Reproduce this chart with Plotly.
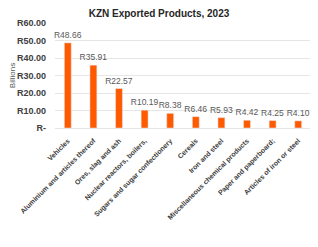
import plotly.graph_objects as go

categories = ["Vehicles", "Aluminium and articles thereof", "Ores, slag and ash",
              "Nuclear reactors, boilers,", "Sugars and sugar confectionery", "Cereals",
              "Iron and steel", "Miscellaneous chemical products", "Paper and paperboard;",
              "Articles of iron or steel"]
values = [48.66, 35.91, 22.57, 10.19, 8.38, 6.46, 5.93, 4.42, 4.25, 4.10]
tick_vals = [0, 10, 20, 30, 40, 50, 60]
tick_text = ["R-", "R10.00", "R20.00", "R30.00", "R40.00", "R50.00", "R60.00"]

fig = go.Figure(go.Bar(
    x=categories, y=values,
    marker_color="#FF5A00",
    text=["R%.2f" % v for v in values],
    textposition="outside",
    constraintext="none",
    textfont=dict(family="Liberation Sans, Arial", size=8.5, color="#595959"),
    cliponaxis=False,
))
fig.update_layout(
    width=310, height=239,
    margin=dict(l=47, r=7, t=15, b=119, autoexpand=False),
    paper_bgcolor="white", plot_bgcolor="white",
    title=dict(text="<b>KZN Exported Products, 2023</b>", x=0.487, xanchor="center",
               y=0.977, yanchor="middle",
               font=dict(family="Liberation Sans, Arial", size=10, color="#262626")),
    bargap=0.73,
    showlegend=False,
)
fig.update_yaxes(range=[0, 60], tickvals=tick_vals, ticktext=tick_text, automargin=False,
                 gridcolor="#E6E6E6", gridwidth=1, zeroline=False, ticklabelstandoff=8,
                 tickfont=dict(family="Liberation Sans, Arial", size=9, color="#404040", weight="bold"),
                 title=dict(text="Billions", font=dict(family="Liberation Sans, Arial", size=8, color="#595959"), standoff=0))
fig.update_xaxes(tickangle=-45, showline=True, linecolor="#E6E6E6", automargin=False,
                 ticklabelstandoff=5,
                 tickfont=dict(family="Liberation Sans, Arial", size=7, color="#404040", weight="bold"))
fig.write_html("out.html")
